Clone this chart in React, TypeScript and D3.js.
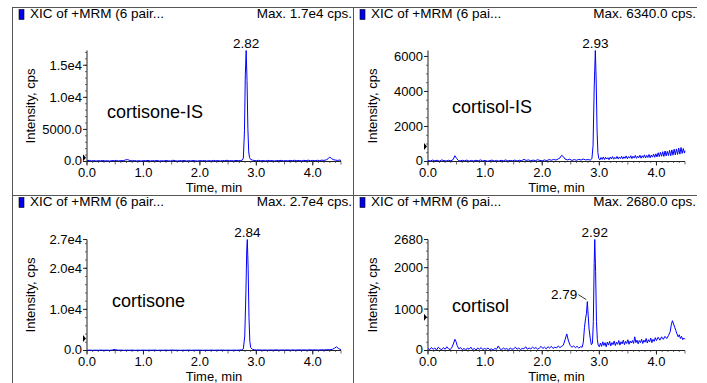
import * as React from 'react';
import * as d3 from 'd3';

// hand-read chromatogram points: [time (min), intensity (cps)]
const cortisoneIS: [number, number][] = [
  [0.00,120],[0.04,180],[0.08,90],[0.12,150],[0.16,70],[0.20,140],[0.24,100],[0.28,160],[0.32,80],[0.36,130],
  [0.40,60],[0.44,150],[0.48,110],[0.52,170],[0.56,90],[0.60,140],[0.64,120],[0.68,240],[0.72,300],[0.76,150],
  [0.80,100],[0.84,160],[0.88,80],[0.92,130],[0.96,70],[1.00,150],[1.04,110],[1.08,170],[1.12,80],[1.16,140],
  [1.20,100],[1.24,160],[1.28,70],[1.32,130],[1.36,90],[1.40,150],[1.44,110],[1.48,80],[1.52,190],[1.56,120],
  [1.60,70],[1.64,140],[1.68,100],[1.72,160],[1.76,80],[1.80,130],[1.84,90],[1.88,150],[1.92,110],[1.96,70],
  [2.00,140],[2.04,100],[2.08,160],[2.12,80],[2.16,130],[2.20,90],[2.24,170],[2.28,110],[2.32,140],[2.36,80],
  [2.40,160],[2.44,120],[2.48,190],[2.52,100],[2.56,150],[2.60,90],[2.64,170],[2.68,120],[2.72,150],[2.75,200],
  [2.77,520],[2.79,4800],[2.805,13500],[2.82,17300],[2.835,12600],[2.85,5200],[2.865,1500],[2.88,600],[2.90,320],[2.93,220],
  [2.96,160],[3.00,120],[3.04,180],[3.08,100],[3.12,150],[3.16,90],[3.20,170],[3.24,110],[3.28,140],[3.32,80],
  [3.36,160],[3.40,120],[3.44,180],[3.48,100],[3.52,150],[3.56,90],[3.60,170],[3.64,130],[3.68,190],[3.72,110],
  [3.76,160],[3.80,100],[3.84,180],[3.88,130],[3.92,200],[3.96,120],[4.00,170],[4.04,110],[4.08,190],[4.12,140],
  [4.16,210],[4.20,170],[4.24,260],[4.27,420],[4.30,700],[4.33,480],[4.36,300],[4.40,220],[4.44,170],[4.48,230],[4.50,150],
];

const cortisolIS: [number, number][] = [
  [0.00,60],[0.04,30],[0.08,80],[0.12,40],[0.16,70],[0.20,20],[0.24,90],[0.28,50],[0.32,30],[0.36,70],
  [0.40,40],[0.44,110],[0.47,330],[0.50,180],[0.53,60],[0.56,30],[0.60,70],[0.64,40],[0.68,80],[0.72,20],
  [0.76,60],[0.80,30],[0.84,70],[0.88,40],[0.92,90],[0.96,30],[1.00,60],[1.04,20],[1.08,50],[1.12,80],
  [1.16,30],[1.20,60],[1.24,20],[1.28,70],[1.32,40],[1.36,90],[1.40,30],[1.44,60],[1.48,40],[1.52,80],
  [1.56,30],[1.60,70],[1.64,50],[1.68,120],[1.72,60],[1.76,90],[1.80,40],[1.84,80],[1.88,50],[1.92,100],
  [1.96,60],[2.00,40],[2.04,90],[2.08,50],[2.12,110],[2.16,70],[2.20,120],[2.24,80],[2.28,150],[2.31,200],
  [2.34,350],[2.37,280],[2.40,140],[2.44,90],[2.48,130],[2.52,60],[2.56,110],[2.60,70],[2.64,120],[2.68,80],
  [2.72,140],[2.76,90],[2.80,110],[2.84,80],[2.87,160],[2.89,900],[2.91,4200],[2.93,6340],[2.945,4600],[2.96,1800],
  [2.975,500],[2.99,180],[3.01,90],[3.03,230],[3.05,120],[3.07,260],[3.09,110],[3.11,240],[3.13,140],[3.15,220],
  [3.17,100],[3.19,250],[3.21,150],[3.23,280],[3.25,130],[3.27,240],[3.29,160],[3.31,290],[3.33,140],[3.35,260],
  [3.37,170],[3.39,300],[3.41,150],[3.43,270],[3.45,180],[3.47,320],[3.49,160],[3.51,280],[3.53,190],[3.55,330],
  [3.57,170],[3.59,300],[3.61,200],[3.63,350],[3.65,180],[3.67,310],[3.69,210],[3.71,360],[3.73,190],[3.75,330],
  [3.77,220],[3.79,380],[3.81,200],[3.83,350],[3.85,230],[3.87,400],[3.89,210],[3.91,370],[3.93,250],[3.95,420],
  [3.97,240],[3.99,440],[4.01,260],[4.03,500],[4.05,280],[4.07,530],[4.09,300],[4.11,560],[4.13,290],[4.15,600],
  [4.17,320],[4.19,580],[4.21,340],[4.23,640],[4.25,330],[4.27,660],[4.29,360],[4.31,700],[4.33,380],[4.35,720],
  [4.37,400],[4.39,760],[4.41,420],[4.43,800],[4.45,460],[4.47,740],[4.49,480],[4.50,620],
];

const cortisone: [number, number][] = [
  [0.00,60],[0.05,90],[0.10,40],[0.15,80],[0.20,50],[0.25,100],[0.30,60],[0.35,90],[0.40,40],[0.45,120],
  [0.48,260],[0.51,180],[0.55,70],[0.60,100],[0.65,50],[0.70,90],[0.75,60],[0.80,110],[0.85,40],[0.90,80],
  [0.95,60],[1.00,100],[1.05,50],[1.10,90],[1.15,70],[1.20,110],[1.25,40],[1.30,80],[1.35,60],[1.40,100],
  [1.45,50],[1.50,120],[1.55,70],[1.60,90],[1.65,40],[1.70,80],[1.75,60],[1.80,110],[1.85,50],[1.90,90],
  [1.95,70],[2.00,100],[2.05,40],[2.10,80],[2.15,60],[2.20,110],[2.25,50],[2.30,90],[2.35,70],[2.40,120],
  [2.45,60],[2.50,100],[2.55,50],[2.60,90],[2.65,70],[2.70,110],[2.74,150],[2.77,400],[2.795,3500],[2.815,14000],
  [2.83,24500],[2.84,27000],[2.855,20000],[2.87,8000],[2.885,2200],[2.90,700],[2.93,300],[2.97,180],[3.00,120],[3.05,150],
  [3.10,90],[3.15,130],[3.20,80],[3.25,140],[3.30,100],[3.35,160],[3.40,90],[3.45,130],[3.50,110],[3.55,150],
  [3.60,90],[3.65,140],[3.70,100],[3.75,160],[3.80,120],[3.85,150],[3.90,100],[3.95,170],[4.00,130],[4.05,160],
  [4.10,110],[4.15,180],[4.20,140],[4.25,200],[4.30,180],[4.35,300],[4.39,600],[4.42,900],[4.45,550],[4.48,300],[4.50,250],
];

const cortisol: [number, number][] = [
  [0.00,50],[0.03,20],[0.06,70],[0.09,30],[0.12,60],[0.15,10],[0.18,80],[0.21,40],[0.24,20],[0.27,70],
  [0.30,30],[0.33,90],[0.36,40],[0.39,20],[0.42,80],[0.45,180],[0.47,270],[0.49,220],[0.51,120],[0.54,40],
  [0.57,70],[0.60,20],[0.63,50],[0.66,10],[0.69,60],[0.72,30],[0.75,80],[0.78,20],[0.81,50],[0.84,10],
  [0.87,60],[0.90,30],[0.93,70],[0.96,20],[0.99,50],[1.02,30],[1.05,60],[1.08,20],[1.11,40],[1.14,10],
  [1.17,50],[1.20,30],[1.23,110],[1.26,40],[1.29,20],[1.32,60],[1.35,30],[1.38,50],[1.41,10],[1.44,60],
  [1.47,30],[1.50,40],[1.53,80],[1.56,30],[1.59,60],[1.62,20],[1.65,50],[1.68,40],[1.71,90],[1.74,30],
  [1.77,60],[1.80,40],[1.83,80],[1.86,50],[1.89,70],[1.92,30],[1.95,60],[1.98,100],[2.01,50],[2.04,80],
  [2.07,40],[2.10,90],[2.13,60],[2.16,100],[2.19,50],[2.22,80],[2.25,60],[2.28,110],[2.31,70],[2.34,100],
  [2.37,130],[2.40,260],[2.43,400],[2.46,230],[2.49,120],[2.52,80],[2.55,110],[2.58,70],[2.61,100],[2.64,60],
  [2.67,90],[2.70,80],[2.72,200],[2.74,560],[2.76,780],[2.775,900],[2.79,1180],[2.805,850],[2.82,520],[2.84,300],
  [2.86,140],[2.88,180],[2.895,700],[2.91,2100],[2.92,2680],[2.935,1900],[2.95,700],[2.965,260],[2.98,130],[3.00,90],
  [3.02,180],[3.04,100],[3.06,210],[3.08,120],[3.10,190],[3.12,90],[3.14,200],[3.16,130],[3.18,220],[3.20,110],
  [3.22,190],[3.24,140],[3.26,230],[3.28,120],[3.30,200],[3.32,150],[3.34,240],[3.36,130],[3.38,210],[3.40,160],
  [3.42,250],[3.44,140],[3.46,220],[3.48,170],[3.50,260],[3.52,150],[3.54,230],[3.56,180],[3.58,240],[3.60,170],
  [3.62,330],[3.64,190],[3.66,250],[3.68,160],[3.70,240],[3.72,190],[3.74,270],[3.76,170],[3.78,250],[3.80,200],
  [3.82,290],[3.84,180],[3.86,260],[3.88,210],[3.90,300],[3.92,190],[3.94,270],[3.96,220],[3.98,310],[4.00,240],
  [4.03,320],[4.06,250],[4.09,330],[4.12,270],[4.15,340],[4.18,290],[4.21,360],[4.24,450],[4.26,620],[4.28,720],
  [4.30,640],[4.32,560],[4.34,480],[4.36,400],[4.38,330],[4.40,380],[4.42,290],[4.44,340],[4.46,260],[4.48,300],[4.50,270],
];

const names = ['cortisone-IS', 'cortisol-IS', 'cortisone', 'cortisol'];
const maxLabels = ['Max. 1.7e4 cps.', 'Max. 6340.0 cps.', 'Max. 2.7e4 cps.', 'Max. 2680.0 cps.'];
const headers = ['XIC of +MRM (6 pair...', 'XIC of +MRM (6 pai...', 'XIC of +MRM (6 pair...', 'XIC of +MRM (6 pai...'];
const yMax = [17300, 6340, 27000, 2680];
const yTicks = [[0, 5000, 10000, 15000], [0, 2000, 4000, 6000], [0, 10000, 20000, 27000], [0, 1000, 2000, 2680]];
const yTickLabels = [
  ['0.0', '5000.0', '1.0e4', '1.5e4'],
  ['0', '2000', '4000', '6000'],
  ['0.0', '1.0e4', '2.0e4', '2.7e4'],
  ['0', '1000', '2000', '2680'],
];
const yMinorStep = [1000, 500, 2000, 200];
const markerValues = [600, 850, 2900, 800];
const xTicks = [0, 1, 2, 3, 4];
const xTickLabels = ['0.0', '1.0', '2.0', '3.0', '4.0'];
const peaks: { panel: number; t: number; v: number; label: string; side: 'top' | 'left' }[] = [
  { panel: 0, t: 2.82, v: 17300, label: '2.82', side: 'top' },
  { panel: 1, t: 2.93, v: 6340, label: '2.93', side: 'top' },
  { panel: 2, t: 2.84, v: 27000, label: '2.84', side: 'top' },
  { panel: 3, t: 2.92, v: 2680, label: '2.92', side: 'top' },
  { panel: 3, t: 2.79, v: 1180, label: '2.79', side: 'left' },
];
const series = [cortisoneIS, cortisolIS, cortisone, cortisol];

// panel geometry
const colX = [{ left: 12, x0: 87, x1: 341, label: 30 }, { left: 353, x0: 428, x1: 685, label: 372 }];
const rowY = [{ top: 7, y0: 161.5, y1: 50.5 }, { top: 195, y0: 350.5, y1: 239.5 }];
const nameX = [107, 452, 112, 452];
const nameY = [118, 113, 307, 312];

const FONT = '"Liberation Sans", Arial, Helvetica, sans-serif';

function Panel({ i }: { i: number }) {
  const col = colX[i % 2];
  const row = rowY[Math.floor(i / 2)];
  const x = d3.scaleLinear().domain([0, 4.5]).range([col.x0, col.x1]);
  const y = d3.scaleLinear().domain([0, yMax[i]]).range([row.y0, row.y1]);
  const line = d3.line<[number, number]>().x(d => x(d[0])).y(d => y(d[1]));
  const minorX = d3.range(0, 4.51, 0.1);
  const minorY = d3.range(0, yMax[i] + 1, yMinorStep[i]);
  const right = col.left === 12 ? 352 : 696;
  const hy = row.top + 11;
  const my = y(markerValues[i]);
  return (
    <g>
      <rect x={col.left + 7} y={row.top + 2.5} width={5} height={10} fill="#0000ee" stroke="#000" strokeWidth={0.6} />
      <text x={col.left + 18} y={hy} fontSize={13.5} fontFamily={FONT}>{headers[i]}</text>
      <text x={right} y={hy} fontSize={13.5} fontFamily={FONT} textAnchor="end">{maxLabels[i]}</text>
      {/* y axis */}
      <line x1={col.x0} x2={col.x0} y1={row.y0} y2={row.y1} stroke="#222" />
      {minorY.map((v, k) => (
        <line key={'my' + k} x1={col.x0 - 2} x2={col.x0} y1={y(v)} y2={y(v)} stroke="#444" strokeWidth={0.8} />
      ))}
      {yTicks[i].map((v, k) => (
        <g key={'yt' + k}>
          <line x1={col.x0 - 4} x2={col.x0} y1={y(v)} y2={y(v)} stroke="#222" />
          <text x={col.x0 - 5} y={y(v) + (k === 0 ? 3 : 4.5)} fontSize={13} fontFamily={FONT} textAnchor="end">{yTickLabels[i][k]}</text>
        </g>
      ))}
      <path d={`M${col.x0 - 4},${my - 3.5}L${col.x0 - 1},${my}L${col.x0 - 4},${my + 3.5}Z`} fill="#000" />
      {/* x axis */}
      <line x1={col.x0} x2={col.x1} y1={row.y0} y2={row.y0} stroke="#222" />
      {minorX.map((v, k) => (
        <line key={'mx' + k} x1={x(v)} x2={x(v)} y1={row.y0} y2={row.y0 + (k % 5 === 0 ? 3 : 1.5)} stroke="#444" strokeWidth={0.8} />
      ))}
      {xTicks.map((v, k) => (
        <g key={'xt' + k}>
          <line x1={x(v)} x2={x(v)} y1={row.y0} y2={row.y0 + 4} stroke="#222" />
          <text x={x(v)} y={row.y0 + 15} fontSize={13} fontFamily={FONT} textAnchor="middle">{xTickLabels[k]}</text>
        </g>
      ))}
      <text x={(col.x0 + col.x1) / 2} y={row.y0 + 30} fontSize={13} fontFamily={FONT} textAnchor="middle">Time, min</text>
      <text transform={`translate(${col.label},${(row.y0 + row.y1) / 2}) rotate(-90)`} fontSize={13} fontFamily={FONT} textAnchor="middle" dy="0.35em">Intensity, cps</text>
      <path d={line(series[i]) || ''} fill="none" stroke="#0000ff" strokeWidth={1} />
      <text x={nameX[i]} y={nameY[i]} fontSize={18} fontFamily={FONT}>{names[i]}</text>
      {peaks.filter(p => p.panel === i).map((p, k) => {
        const px = x(p.t);
        const py = y(p.v);
        if (p.side === 'top') {
          return <text key={'pk' + k} x={px} y={py - 3} fontSize={13.5} fontFamily={FONT} textAnchor="middle">{p.label}</text>;
        }
        return (
          <g key={'pk' + k}>
            <text x={px - 10} y={py - 3} fontSize={13.5} fontFamily={FONT} textAnchor="end">{p.label}</text>
            <line x1={px - 9} y1={py - 7} x2={px - 1} y2={py - 2} stroke="#000" strokeWidth={0.8} />
          </g>
        );
      })}
    </g>
  );
}

export default function App() {
  return (
    <svg width={707} height={383} style={{ position: 'absolute', left: 0, top: 0, background: '#fff' }}>
      <rect x={0} y={0} width={707} height={383} fill="#fff" />
      <line x1={12} x2={697} y1={7.5} y2={7.5} stroke="#555" />
      <line x1={12} x2={697} y1={195.5} y2={195.5} stroke="#555" />
      <line x1={12.5} x2={12.5} y1={7} y2={383} stroke="#555" />
      <line x1={353.5} x2={353.5} y1={7} y2={383} stroke="#555" />
      {[0, 1, 2, 3].map(i => <Panel key={i} i={i} />)}
    </svg>
  );
}
